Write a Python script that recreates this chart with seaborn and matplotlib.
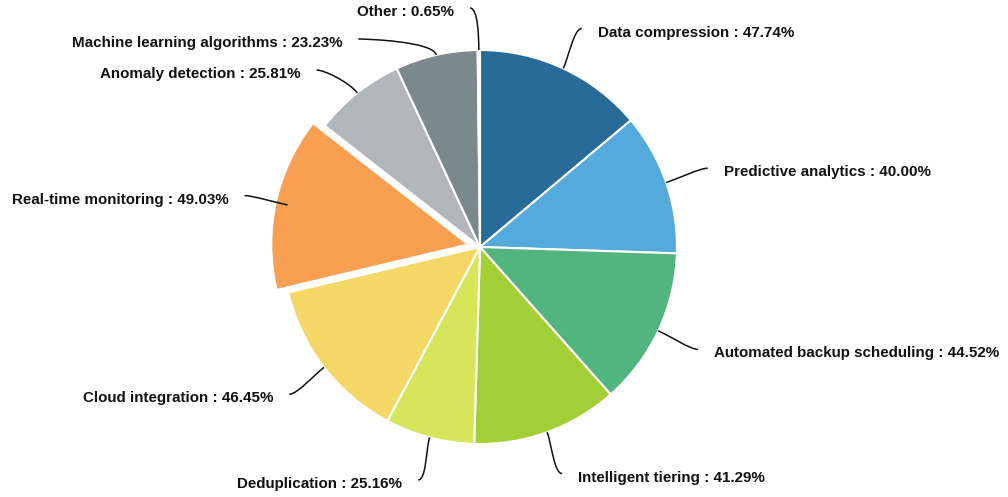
import numpy as np
import matplotlib
matplotlib.use("Agg")
import matplotlib.pyplot as plt
from matplotlib.path import Path
from matplotlib.patches import PathPatch
import seaborn as sns

# ---- data ----
categories = ["Data compression", "Predictive analytics", "Automated backup scheduling",
              "Intelligent tiering", "Deduplication", "Cloud integration",
              "Real-time monitoring", "Anomaly detection", "Machine learning algorithms", "Other"]
values = [47.74, 40.00, 44.52, 41.29, 25.16, 46.45, 49.03, 25.81, 23.23, 0.65]
colors = ["#286b99", "#53aadb", "#52b47e", "#a3cf36", "#d6e55a",
          "#f4d764", "#f99f52", "#b1b6b8", "#7b898b", "#e9ecee"]
exploded = "Real-time monitoring"

# ---- style ----
sns.set_theme(style="white")
plt.rcParams["font.family"] = ["Liberation Sans", "DejaVu Sans"]

W, H = 1008, 497
fig = plt.figure(figsize=(W / 100, H / 100), dpi=100)
ax = fig.add_axes([0, 0, 1, 1])

cx, cy, r = 480, H - 247, 197
explode = [12 if c == exploded else 0 for c in categories]

palette = sns.color_palette(colors)
wedges, _ = ax.pie(values, colors=palette, startangle=90, counterclock=False,
                   center=(cx, cy), radius=r, explode=explode, frame=True,
                   wedgeprops=dict(edgecolor="white", linewidth=1.5))
ax.set_xlim(0, W)
ax.set_ylim(0, H)
ax.set_aspect("auto")
ax.axis("off")

# ---- label layout ----
vals = np.array(values)
cum = np.cumsum(vals) / vals.sum() * 360.0
mid = cum - vals / vals.sum() * 180.0  # clockwise from top, degrees
rad = np.deg2rad(mid)
ux, uy = np.sin(rad), np.cos(rad)  # unit vectors (y up)
R = 241
spacing = 31
top_limit = H - 8
labels = []
for i, c in enumerate(categories):
    side = 1 if ux[i] > 0 else -1
    ny = cy + R * uy[i]
    labels.append(dict(i=i, side=side, y=min(ny, top_limit), yx=ny))

for side in (1, -1):
    group = sorted([l for l in labels if l["side"] == side], key=lambda l: -l["y"])
    for a, b in zip(group, group[1:]):
        if a["y"] - b["y"] < spacing:
            b["y"] = a["y"] - spacing
            b["yx"] = b["y"]

for l in labels:
    i, side, y = l["i"], l["side"], l["y"]
    dy = l["yx"] - cy
    ex = cx + side * max(np.sqrt(max(R ** 2 - dy ** 2, 0.0)), 10)
    p0 = (cx + r * ux[i], cy + r * uy[i])
    p1 = (p0[0] + 14 * ux[i], p0[1] + 14 * uy[i])
    p2 = (ex - side * 8, y)
    p3 = (ex, y)
    path = Path([p0, p1, p2, p3], [Path.MOVETO, Path.CURVE4, Path.CURVE4, Path.CURVE4])
    ax.add_patch(PathPatch(path, fill=False, edgecolor="#111111", linewidth=1.1, zorder=5))
    ax.text(ex + side * 16, y - 4, f"{categories[i]} : {values[i]:.2f}%",
            ha="left" if side > 0 else "right", va="center",
            fontsize=10.9, fontweight="bold", color="#111111", zorder=6)

fig.savefig("out.png", dpi=100, facecolor="white")
